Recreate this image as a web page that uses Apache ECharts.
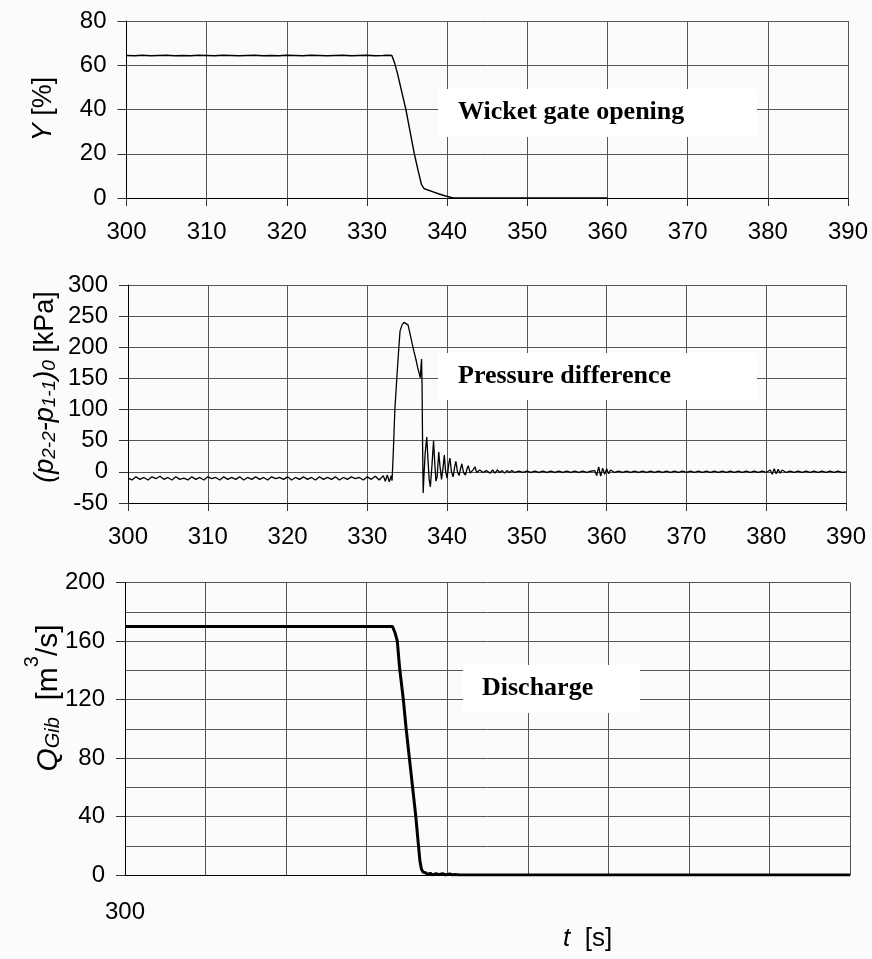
<!DOCTYPE html>
<html><head><meta charset="utf-8">
<script src="https://cdn.jsdelivr.net/npm/echarts@6/dist/echarts.min.js"></script>
<style>html,body{margin:0;padding:0;background:#fbfbfb}#c{width:872px;height:959px}</style>
</head><body><div id="c"></div>
<script>
// ---- data (time [s], value) ----
const gateOpening = [[300,64.4],[301,64.3],[302,64.5],[303,64.3],[304,64.4],[305,64.5],[306,64.3],[307,64.4],[308,64.3],[309,64.5],[310,64.4],[311,64.3],[312,64.5],[313,64.4],[314,64.3],[315,64.4],[316,64.5],[317,64.3],[318,64.4],[319,64.3],[320,64.5],[321,64.4],[322,64.3],[323,64.5],[324,64.4],[325,64.3],[326,64.4],[327,64.5],[328,64.3],[329,64.4],[330,64.5],[331,64.3],[332,64.4],[332.5,64.5],[333.1,64.4],[333.4,61.5],[333.8,56.3],[334.3,48.5],[334.85,40],[335.4,29.5],[335.9,20],[336.4,12],[336.8,6],[337.1,4.3],[337.6,3.6],[338.25,2.8],[339.0,1.8],[339.8,0.9],[340.75,0],[345,0],[350,0],[355,0],[360,0]];

const pressureDiff = [[300,-10],[300.5,-13],[301,-8],[301.5,-12],[302,-9],[302.5,-13],[303,-8],[303.5,-11],[304,-7],[304.5,-12],[305,-9],[305.5,-13],[306,-8],[306.5,-12],[307,-10],[307.5,-13],[308,-8],[308.5,-12],[309,-9],[309.5,-13],[310,-8],[310.5,-11],[311,-9],[311.5,-13],[312,-8],[312.5,-12],[313,-9],[313.5,-12],[314,-8],[314.5,-13],[315,-9],[315.5,-12],[316,-8],[316.5,-12],[317,-9],[317.5,-13],[318,-8],[318.5,-11],[319,-9],[319.5,-12],[320,-8],[320.5,-13],[321,-9],[321.5,-12],[322,-8],[322.5,-12],[323,-9],[323.5,-13],[324,-8],[324.5,-12],[325,-9],[325.5,-12],[326,-8],[326.5,-13],[327,-9],[327.5,-12],[328,-8],[328.5,-11],[329,-9],[329.5,-13],[330,-8],[330.5,-12],[331,-7],[331.5,-13],[332,-6],[332.25,-15],[332.5,-5],[332.75,-16],[333,-6],
[333.1,-14],[333.25,30],[333.45,100],[333.7,151],[333.95,200],[334.1,226],[334.35,236],[334.6,240],[334.85,242],[335.1,236],[335.35,222],[335.6,207],[335.85,193],[336.1,180],[336.3,168],[336.5,158],[336.65,151],[336.72,168],[336.8,181],[336.86,140],[336.93,40],[337.0,-34],[337.1,-5],[337.25,30],[337.45,56],[337.6,20],[337.75,-12],[337.9,-24],[338.1,10],[338.3,50],[338.45,15],[338.6,-15],[338.75,-8],[338.95,32],[339.1,10],[339.3,-12],[339.5,8],[339.65,27],[339.8,2],[340.0,-10],[340.2,12],[340.35,22],[340.55,0],[340.75,-8],[340.95,8],[341.1,17],[341.3,0],[341.5,-6],[341.7,6],[341.85,13],[342.05,-1],[342.3,-5],[342.5,5],[342.65,10],[342.9,-2],[343.1,-4],[343.3,4],[343.5,8],[343.7,-1],[343.9,-3],[344.1,3],[344.3,6],[344.5,-1],[344.7,-3],[344.9,2],[345.1,5],[345.4,-2],[345.7,3],[346.0,-2],[346.3,3],[346.6,-1],[346.9,2],[347.2,-2],[347.5,2],[347.8,-1],[348.1,2],[348.5,-1],[349,1],[349.5,-1],[350,1],[350.5,-1],[351,1],[351.5,-1],[352,1],[352.5,-1],[353,1],[353.5,-1],[354,1],[354.5,-1],[355,1],[355.5,-1],[356,1],[356.5,-1],[357,1],[357.5,-1],[358,1],[358.5,2],[358.75,-6],[359,8],[359.25,-7],[359.5,6],[359.75,-4],[360,5],[360.25,-3],[360.5,3],[361,-1],[361.5,1],[362,-1],[362.5,1],[363,-1],[363.5,1],[364,-1],[364.5,1],[365,-1],[365.5,1],[366,-1],[366.5,1],[367,-1],[367.5,1],[368,-1],[368.5,1],[369,-1],[369.5,1],[370,-1],[370.5,1],[371,-1],[371.5,1],[372,-1],[372.5,1],[373,-1],[373.5,1],[374,-1],[374.5,1],[375,-1],[375.5,1],[376,-1],[376.5,1],[377,-1],[377.5,1],[378,-1],[378.5,1],[379,-1],[379.5,1],[380,-1],[380.5,3],[380.75,-4],[381,5],[381.25,-3],[381.5,4],[381.75,-2],[382,3],[382.5,-1],[383,1],[383.5,-1],[384,1],[384.5,-1],[385,1],[385.5,-1],[386,1],[386.5,-1],[387,1],[387.5,-1],[388,1],[388.5,-1],[389,1],[389.5,-1],[390,0]];

const discharge = [[300,170],[305,170],[310,170],[315,170],[320,170],[325,170],[330,170],[333.2,170],[333.5,166],[333.8,160],[334.1,141],[334.55,120],[334.9,100],[335.3,80],[335.7,60],[336.1,40],[336.4,22],[336.6,10],[336.8,4],[337.0,2],[337.3,1.5],[337.6,0.3],[337.9,1.2],[338.2,0],[338.6,1],[339.0,0.2],[339.4,0.9],[339.8,0],[340.3,0.7],[340.7,0],[341,0.3],[341.5,0],[350,0],[360,0],[370,0],[380,0],[390,0]];

const panelTitles = ['Wicket gate opening', 'Pressure difference', 'Discharge'];
const bottomTickLabels = [300];

// ---- styling ----
const SANS = 'Liberation Sans';
const gridColor = '#555';
const labelStyle = {color:'#000', fontFamily:SANS, fontSize:24, margin:20};
function makeRich(big, small){
  return {
    i:{fontFamily:SANS, fontSize:big, fontStyle:'italic', fill:'#000', lineHeight:big+11, verticalAlign:'bottom'},
    n:{fontFamily:SANS, fontSize:big, fill:'#000', lineHeight:big+11, verticalAlign:'bottom'},
    s:{fontFamily:SANS, fontSize:small, fontStyle:'italic', fill:'#000', lineHeight:small, verticalAlign:'bottom'},
    p:{fontFamily:SANS, fontSize:small, fill:'#000', lineHeight:small, verticalAlign:'top'}
  };
}
function xAxis(gi, showAll){
  return {
    type:'value', gridIndex:gi, min:300, max:390, interval:10,
    axisLine:{show:true, onZero:false, lineStyle:{color:'#000', width:1}},
    axisTick:{show:showAll, length:8, lineStyle:{color:'#333'}},
    axisLabel:showAll ? Object.assign({}, labelStyle, {margin:22}) :
      Object.assign({}, labelStyle, {margin:25, formatter:v => bottomTickLabels.includes(v) ? String(v) : ''}),
    splitLine:{show:true, lineStyle:{color:gridColor, width:1}}
  };
}
function yTitle(x, y, text, rich){
  return {type:'text', x:x, y:y, rotation:Math.PI/2, z:51,
    style:{text:text, rich:rich, align:'center', verticalAlign:'middle'}};
}
const chart = echarts.init(document.getElementById('c'), null, {renderer:'canvas'});
const option = {
  backgroundColor:'#fbfbfb',
  animation:false,
  grid:[
    {left:126.5, top:21, width:721.5, height:177},
    {left:128, top:285, width:718, height:218},
    {left:125, top:582.5, width:725, height:292.5}
  ],
  xAxis:[xAxis(0,true), xAxis(1,true), xAxis(2,false)],
  yAxis:[
    {type:'value', gridIndex:0, min:0, max:80, interval:20,
     axisLine:{show:true, lineStyle:{color:'#000'}}, axisTick:{show:true, length:9, lineStyle:{color:'#333'}},
     axisLabel:labelStyle, splitLine:{lineStyle:{color:gridColor}}},
    {type:'value', gridIndex:1, min:-50, max:300, interval:50,
     axisLine:{show:true, lineStyle:{color:'#000'}}, axisTick:{show:true, length:9, lineStyle:{color:'#333'}},
     axisLabel:labelStyle, splitLine:{lineStyle:{color:gridColor}}},
    {type:'value', gridIndex:2, min:0, max:200, interval:40,
     axisLine:{show:true, lineStyle:{color:'#000'}},
     axisTick:{show:true, length:9, lineStyle:{color:'#333'}},
     minorTick:{show:false, splitNumber:2},
     minorSplitLine:{show:true, lineStyle:{color:gridColor, width:1}},
     axisLabel:labelStyle,
     splitLine:{lineStyle:{color:gridColor}}}
  ],
  series:[
    {type:'line', xAxisIndex:0, yAxisIndex:0, data:gateOpening, showSymbol:false, lineStyle:{color:'#000', width:1.4}},
    {type:'line', xAxisIndex:1, yAxisIndex:1, data:pressureDiff, showSymbol:false, lineStyle:{color:'#000', width:1.3}},
    {type:'line', xAxisIndex:2, yAxisIndex:2, data:discharge, showSymbol:false, lineStyle:{color:'#000', width:3}}
  ],
  graphic:[
    yTitle(38, 109, '{i|Y}{n| [%]}', makeRich(27, 19)),
    yTitle(40, 387, '{i|(p}{s|2-2}{i|-p}{s|1-1}{i|)}{s|0}{n| [kPa]}', makeRich(27, 19)),
    yTitle(43, 698, '{i|Q}{s|Gib}{n|  [m}{p|3}{n|/s]}', makeRich(30, 20)),
    {type:'rect', left:438, top:89, shape:{width:319, height:48}, style:{fill:'#fff'}, z:50},
    {type:'text', left:458, top:99, style:{text:panelTitles[0], font:'bold 26px "Liberation Serif"', fill:'#000'}, z:51},
    {type:'rect', left:438, top:353, shape:{width:319, height:47}, style:{fill:'#fff'}, z:50},
    {type:'text', left:458, top:363, style:{text:panelTitles[1], font:'bold 26px "Liberation Serif"', fill:'#000'}, z:51},
    {type:'rect', left:463, top:665, shape:{width:177, height:48}, style:{fill:'#fff'}, z:50},
    {type:'text', left:482, top:675, style:{text:panelTitles[2], font:'bold 26px "Liberation Serif"', fill:'#000'}, z:51},
    {type:'text', left:563, top:926, style:{text:'{i|t}{n|  [s]}', rich:{i:{fontFamily:SANS, fontSize:26, fontStyle:'italic', fill:'#000'}, n:{fontFamily:SANS, fontSize:26, fill:'#000'}}}, z:51}
  ]
};
chart.setOption(option);
</script></body></html>
